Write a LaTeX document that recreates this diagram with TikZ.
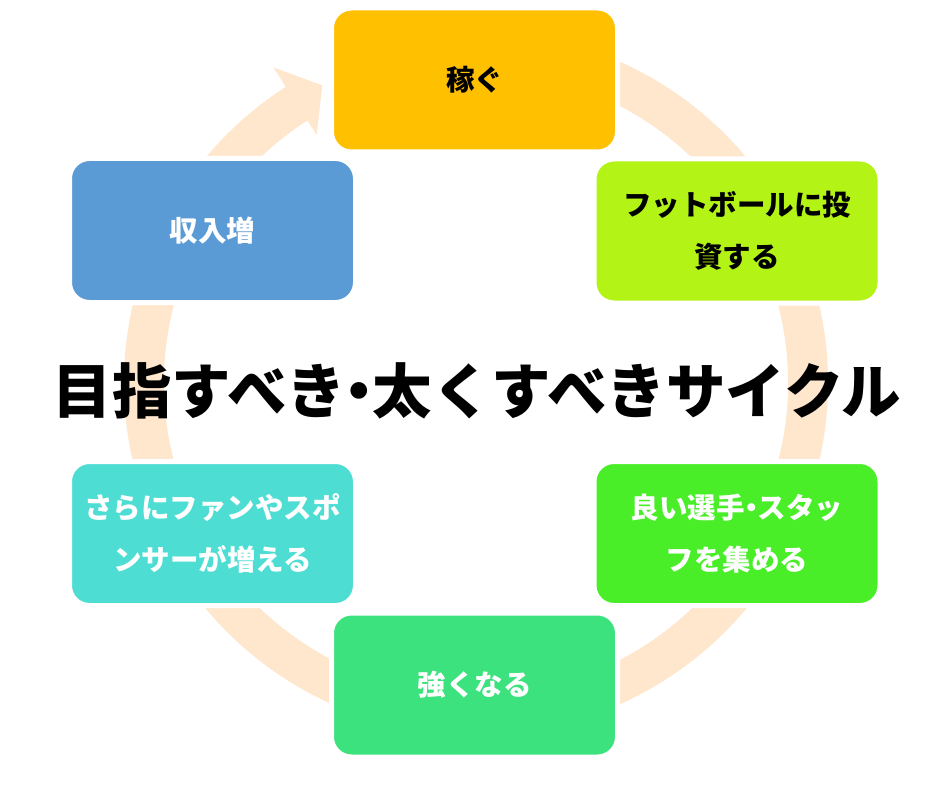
\documentclass[tikz,border=0pt]{standalone}
\usepackage{fontspec}
\newfontfamily\jpfont{Noto Sans CJK JP}
\usetikzlibrary{positioning,calc}
\definecolor{ringPeach}{RGB}{255,231,206}
\definecolor{earnFill}{RGB}{255,192,0}
\definecolor{investFill}{RGB}{179,243,22}
\definecolor{playersFill}{RGB}{73,238,40}
\definecolor{strongFill}{RGB}{59,226,125}
\definecolor{fansFill}{RGB}{77,221,211}
\definecolor{incomeFill}{RGB}{91,155,213}
\newcommand{\nakaguro}{\makebox[0.45em][c]{・}}

\begin{document}
\begin{tikzpicture}[x=1pt,y=1pt]

    \tikzstyle{commonNode}=[rectangle, rounded corners=20pt, minimum width=286pt, minimum height=144pt, inner sep=0pt, draw=white, line width=5pt, align=center, font=\jpfont\bfseries\fontsize{28.5}{52}\selectfont]
    \tikzstyle{darkBox}=[commonNode, text=black]
    \tikzstyle{lightBox}=[commonNode, text=white]
    \tikzstyle{cycleRing}=[draw=ringPeach, line width=40pt]

    \useasboundingbox (0,0) rectangle (945,-789);

    % Ring centre
    \coordinate (cyc) at (476,-383);

    % Cycle arrow
    \draw[cycleRing] ($(cyc)+(70:332)$) arc[start angle=70, end angle=-237.8, radius=332];
    \fill[ringPeach] ($(cyc)+(122.7:375)$) -- ($(cyc)+(117.3:335)$) -- ($(cyc)+(122.7:295)$) -- cycle;

    % Steps
    \node at (474.5,-80)   [darkBox, fill=earnFill]     (earn)    {稼ぐ};
    \node at (737,-231)    [darkBox, fill=investFill]   (invest)  {フットボールに投\\資する};
    \node at (737,-533.5)  [lightBox, fill=playersFill] (players) {良い選手\nakaguro スタッ\\フを集める};
    \node at (474.5,-685)  [lightBox, fill=strongFill]  (strong)  {強くなる};
    \node at (212.5,-533.5)[lightBox, fill=fansFill]    (fans)    {さらにファンやスポ\\ンサーが増える};
    \node at (212.5,-230.5)[lightBox, fill=incomeFill]  (income)  {収入増};

    % Title
    \node at (477,-391) (title) {\jpfont\bfseries\fontsize{59.5}{60}\selectfont 目指すべき\nakaguro 太くすべきサイクル};

\end{tikzpicture}
\end{document}
